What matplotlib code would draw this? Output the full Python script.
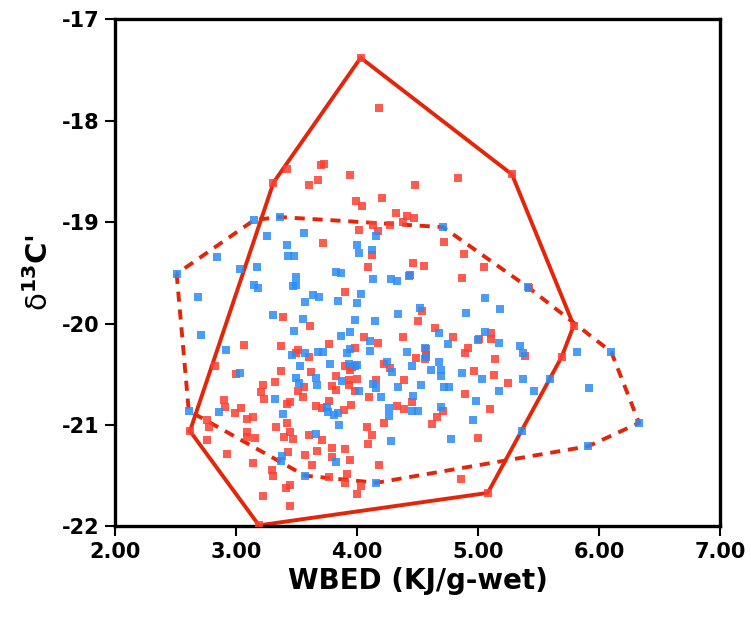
import numpy as np
import matplotlib.pyplot as plt
from matplotlib.ticker import FormatStrFormatter

plt.rcParams['font.family'] = ['DejaVu Sans']
plt.rcParams['axes.unicode_minus'] = False
plt.rcParams['mathtext.fontset'] = 'dejavusans'

# WBED (KJ/g-wet) and d13C' for the two groups
red_x = [4.03, 4.18, 3.70, 3.73, 3.68, 3.60, 3.94, 4.48, 4.83, 5.28, 3.42, 3.31,
         3.99, 4.04, 4.21, 4.32, 4.41, 4.47, 4.38, 4.13, 4.17, 4.27, 4.02, 3.72,
         4.72, 4.12, 4.88, 4.46, 4.55, 4.09, 5.05, 4.44, 4.87, 3.90, 4.54, 4.50,
         3.61, 4.64, 5.11, 5.11, 4.06, 4.38, 4.79, 4.17, 5.01, 3.77, 4.92, 4.57,
         3.98, 4.89, 3.39, 3.07, 3.37, 3.51, 5.42, 5.79, 5.39, 3.50, 3.60, 2.83,
         3.00, 3.37, 3.62, 3.32, 3.22, 3.21, 3.23, 3.56, 3.51, 3.55, 2.90, 2.91,
         3.45, 3.42, 3.04, 2.99, 3.66, 3.09, 3.14, 2.76, 2.78, 3.42, 3.33, 3.09,
         2.62, 3.45, 3.09, 3.16, 3.40, 3.47, 3.60, 2.76, 3.43, 3.57, 2.93, 3.14,
         3.63, 3.30, 3.31, 3.45, 3.41, 3.22, 3.45, 3.19, 4.49, 4.57, 4.56, 5.14,
         3.90, 3.94, 3.96, 4.22, 4.27, 4.97, 5.13, 5.25, 3.83, 3.93, 4.00, 3.93,
         4.16, 4.39, 3.79, 3.83, 3.98, 4.89, 4.10, 4.45, 3.77, 3.71, 3.89, 3.95,
         4.33, 4.39, 4.71, 4.66, 5.10, 4.22, 4.62, 4.08, 4.12, 3.71, 5.00, 4.09,
         3.79, 3.90, 3.67, 3.79, 3.94, 4.18, 3.92, 3.77, 3.90, 4.03, 4.00, 4.86,
         5.08, 5.69]
red_y = [-17.38, -17.88, -18.44, -18.43, -18.59, -18.63, -18.54, -18.63, -18.57, -18.53, -18.48, -18.61,
         -18.79, -18.84, -18.76, -18.91, -18.94, -18.96, -19.00, -19.03, -19.09, -19.03, -19.08, -19.21,
         -19.20, -19.32, -19.31, -19.40, -19.43, -19.44, -19.44, -19.52, -19.55, -19.69, -19.88, -19.98,
         -20.02, -20.04, -20.09, -20.15, -20.13, -20.13, -20.13, -20.19, -20.15, -20.20, -20.24, -20.25,
         -20.24, -20.29, -19.94, -20.21, -20.22, -20.26, -19.65, -20.02, -20.32, -20.29, -20.33, -20.42,
         -20.50, -20.47, -20.48, -20.58, -20.61, -20.68, -20.74, -20.63, -20.67, -20.72, -20.75, -20.82,
         -20.77, -20.79, -20.83, -20.88, -20.81, -20.94, -20.92, -20.95, -21.02, -20.98, -21.02, -21.07,
         -21.06, -21.07, -21.12, -21.13, -21.12, -21.14, -21.10, -21.15, -21.27, -21.30, -21.29, -21.38,
         -21.39, -21.44, -21.50, -21.59, -21.62, -21.70, -21.80, -21.99, -20.34, -20.31, -20.35, -20.35,
         -20.42, -20.46, -20.43, -20.40, -20.44, -20.47, -20.51, -20.59, -20.52, -20.56, -20.55, -20.61,
         -20.56, -20.56, -20.62, -20.66, -20.67, -20.69, -20.72, -20.77, -20.76, -20.83, -20.85, -20.80,
         -20.81, -20.84, -20.86, -20.92, -20.84, -20.98, -20.99, -21.02, -21.10, -21.15, -21.13, -21.19,
         -21.23, -21.24, -21.26, -21.32, -21.35, -21.39, -21.48, -21.51, -21.57, -21.60, -21.68, -21.53,
         -21.67, -20.33]

blue_x = [3.15, 3.36, 3.56, 3.26, 3.42, 2.84, 3.43, 3.48, 2.51, 3.03, 3.17, 3.50,
          3.15, 3.18, 3.47, 3.50, 2.69, 3.64, 3.69, 3.57, 3.31, 3.55, 3.48, 2.71,
          2.92, 3.46, 3.57, 3.68, 3.72, 3.53, 3.03, 3.50, 3.52, 3.66, 3.32, 2.61,
          2.86, 3.39, 3.66, 3.38, 3.37, 3.57, 4.71, 4.16, 4.00, 4.02, 4.12, 3.83,
          3.87, 4.43, 4.13, 4.28, 4.33, 4.03, 3.84, 4.00, 5.06, 5.18, 4.52, 4.90,
          4.34, 3.98, 4.15, 3.94, 4.68, 5.06, 3.87, 4.11, 5.00, 5.17, 4.75, 4.56,
          3.94, 3.92, 4.11, 4.41, 3.78, 3.93, 4.00, 3.98, 4.25, 4.29, 4.45, 4.68,
          4.61, 4.69, 4.69, 4.87, 5.03, 3.67, 3.88, 4.13, 4.16, 4.34, 4.53, 4.72,
          4.76, 4.02, 5.17, 4.20, 4.46, 4.98, 3.75, 3.76, 3.81, 3.84, 4.26, 4.26,
          4.45, 4.50, 4.69, 4.96, 3.85, 4.28, 4.78, 3.83, 4.16, 5.41, 5.35, 5.37,
          5.82, 6.10, 5.37, 5.59, 5.46, 5.92, 5.36, 6.33, 5.91, 4.57]
blue_y = [-18.98, -18.95, -19.11, -19.14, -19.23, -19.34, -19.33, -19.33, -19.51, -19.46, -19.44, -19.54,
          -19.62, -19.65, -19.63, -19.62, -19.74, -19.72, -19.74, -19.79, -19.92, -19.96, -20.07, -20.11,
          -20.26, -20.31, -20.29, -20.28, -20.28, -20.42, -20.49, -20.54, -20.59, -20.54, -20.74, -20.86,
          -20.87, -20.89, -21.09, -21.31, -21.36, -21.50, -19.05, -19.14, -19.23, -19.30, -19.28, -19.49,
          -19.50, -19.53, -19.56, -19.56, -19.58, -19.71, -19.78, -19.80, -19.75, -19.86, -19.85, -19.90,
          -19.91, -19.97, -19.98, -20.08, -20.09, -20.08, -20.12, -20.17, -20.16, -20.19, -20.20, -20.24,
          -20.25, -20.29, -20.27, -20.28, -20.40, -20.40, -20.41, -20.42, -20.38, -20.48, -20.42, -20.38,
          -20.46, -20.46, -20.52, -20.49, -20.55, -20.61, -20.57, -20.60, -20.64, -20.63, -20.61, -20.63,
          -20.63, -20.67, -20.67, -20.72, -20.71, -20.76, -20.82, -20.87, -20.90, -20.88, -20.83, -20.91,
          -20.86, -20.86, -20.82, -20.95, -21.00, -21.16, -21.14, -21.37, -21.57, -19.64, -20.22, -20.29,
          -20.28, -20.28, -20.55, -20.55, -20.67, -20.64, -21.06, -20.98, -21.21, -20.33]

x_ticks = [2, 3, 4, 5, 6, 7]
y_ticks = [-22, -21, -20, -19, -18, -17]

LINE_RED = '#E3260A'


def convex_hull(xs, ys):
    pts = sorted(set(zip(xs, ys)))

    def cross(o, a, b):
        return (a[0] - o[0]) * (b[1] - o[1]) - (a[1] - o[1]) * (b[0] - o[0])

    lower, upper = [], []
    for p in pts:
        while len(lower) >= 2 and cross(lower[-2], lower[-1], p) <= 0:
            lower.pop()
        lower.append(p)
    for p in reversed(pts):
        while len(upper) >= 2 and cross(upper[-2], upper[-1], p) <= 0:
            upper.pop()
        upper.append(p)
    hull = lower[:-1] + upper[:-1]
    hull.append(hull[0])
    return np.array(hull)


fig = plt.figure(figsize=(7.51, 6.2), dpi=100)
ax = fig.add_axes([0.153, 0.151, 0.806, 0.818])

# solid outline = red group, dashed outline = blue group
red_hull = convex_hull(red_x, red_y)
blue_hull = convex_hull(blue_x, blue_y)
ax.plot(red_hull[:, 0], red_hull[:, 1], color=LINE_RED, lw=2.8, zorder=2,
        solid_joinstyle='miter')
ax.plot(blue_hull[:, 0], blue_hull[:, 1], color=LINE_RED, lw=2.8, zorder=2,
        dashes=(2.6, 2.0))

ax.scatter(red_x, red_y, marker='s', s=27, color='#FF3F33', alpha=0.85,
           linewidths=0, zorder=3)
ax.scatter(blue_x, blue_y, marker='s', s=27, color='#2B8CF7', alpha=0.85,
           linewidths=0, zorder=4)

ax.set_xlim(2, 7)
ax.set_ylim(-22, -17)
ax.set_xticks(x_ticks)
ax.set_yticks(y_ticks)
ax.xaxis.set_major_formatter(FormatStrFormatter('%.2f'))
ax.tick_params(direction='out', length=7, width=1.5, labelsize=15, pad=4)
for lab in ax.get_xticklabels() + ax.get_yticklabels():
    lab.set_fontweight('bold')
for sp in ax.spines.values():
    sp.set_linewidth(2.4)

ax.set_xlabel('WBED (KJ/g-wet)', fontsize=20, fontweight='bold', labelpad=4)
ax.set_ylabel(r"$\mathrm{\delta}^{\mathbf{13}}$C'", fontsize=21,
              fontweight='bold', labelpad=6)

fig.savefig('out.png', dpi=100)
